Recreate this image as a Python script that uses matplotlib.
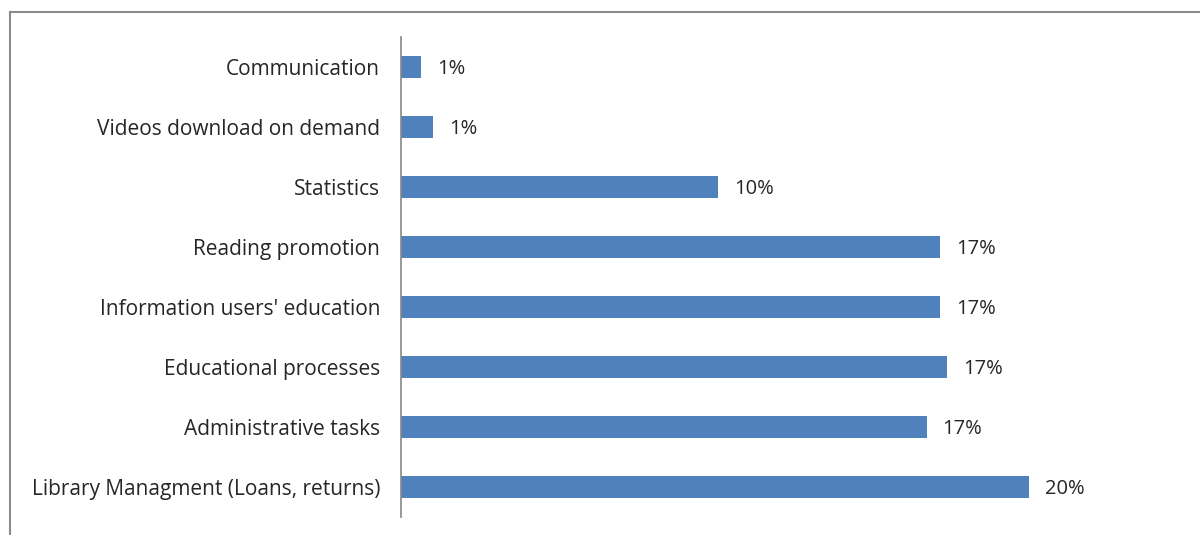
import matplotlib
matplotlib.use("Agg")
import matplotlib.pyplot as plt
from matplotlib.lines import Line2D

plt.rcParams['font.family'] = ['Open Sans', 'DejaVu Sans']

# Uses of ICT in school libraries (share of responses, %)
categories = [
    "Communication",
    "Videos download on demand",
    "Statistics",
    "Reading promotion",
    "Information users' education",
    "Educational processes",
    "Administrative tasks",
    "Library Managment (Loans, returns)",
]
values = [0.64, 1.02, 10.1, 17.17, 17.17, 17.39, 16.75, 20.0]

bar_color = "#4f81bd"
text_color = "#262626"
fs = 15

fig = plt.figure(figsize=(12, 5.35), dpi=100)
W, H = 1200, 535
left, right, top, bottom = 401, 1150, 37, 517
ax = fig.add_axes([left / W, 1 - bottom / H, (right - left) / W, (bottom - top) / H])

ypos = list(range(len(categories)))
ax.barh(ypos, values, height=0.38, color=bar_color, zorder=2)

for y, v in zip(ypos, values):
    ax.text(v + 0.5, y + 0.04, f"{v:.0f}%", va="center", ha="left",
            fontsize=14.5, color=text_color)

ax.set_yticks(ypos)
ax.set_yticklabels(categories, fontsize=fs, color=text_color)
ax.tick_params(axis="y", length=0, pad=15)
ax.set_xticks([])
ax.set_ylim(len(categories) - 0.5, -0.5)
ax.set_xlim(0, (right - left) / 31.4)

for side in ("top", "right", "bottom"):
    ax.spines[side].set_visible(False)
ax.spines["left"].set_color("#888888")
ax.spines["left"].set_linewidth(1.2)

# outer chart frame
fig.add_artist(Line2D([10 / W, 10 / W], [0, 1 - 12 / H], transform=fig.transFigure,
                      color="#8c8c8c", linewidth=1.5))
fig.add_artist(Line2D([10 / W, 1.0], [1 - 12 / H, 1 - 12 / H], transform=fig.transFigure,
                      color="#8c8c8c", linewidth=1.5))

fig.savefig("out.png", dpi=100, facecolor="white")
